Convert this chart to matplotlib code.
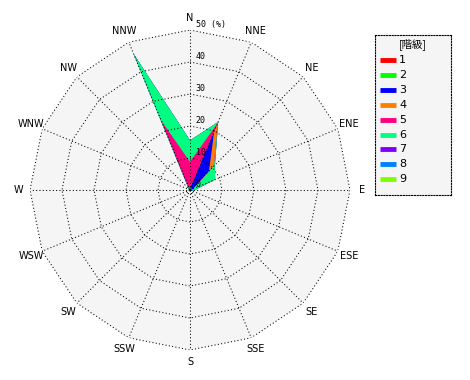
import numpy as np
import matplotlib
matplotlib.use("Agg")
import matplotlib.pyplot as plt

directions = ["N", "NNE", "NE", "ENE", "E", "ESE", "SE", "SSE",
              "S", "SSW", "SW", "WSW", "W", "WNW", "NW", "NNW"]
class_labels = ["1", "2", "3", "4", "5", "6", "7", "8", "9"]
class_colors = ["#ff0000", "#00ff00", "#0000ff", "#ff8000", "#ff0080",
                "#00ff80", "#8000ff", "#0080ff", "#80ff00"]

# frequency (%) per class and direction
c1 = [0.1, 0.2, 0.2, 0.2, 0.1, 0.1, 0.1, 0.1, 0.1, 0.1, 0.1, 0.1, 0.1, 0.1, 0.1, 0.2]
c2 = [0.1, 0.5, 0.5, 0.3, 0.2, 0.1, 0.1, 0.1, 0.1, 0.1, 0.1, 0.1, 0.1, 0.1, 0.1, 0.3]
c3 = [0.2, 19.0, 7.7, 0.5, 0.2, 0.1, 0.0, 0.0, 0.0, 0.0, 0.0, 0.0, 0.0, 0.0, 0.1, 0.3]
c4 = [0.1, 2.8, 2.1, 0.0, 0.0, 0.0, 0.0, 0.0, 0.0, 0.0, 0.0, 0.0, 0.0, 0.0, 0.0, 0.1]
c5 = [8.3, 0.2, 0.1, 0.0, 0.0, 0.0, 0.0, 0.0, 0.0, 0.0, 0.0, 0.0, 0.0, 0.0, 0.1, 22.5]
c6 = [6.7, 0.3, 0.4, 7.5, 1.0, 0.3, 0.2, 0.2, 0.2, 0.2, 0.2, 0.2, 0.2, 0.3, 0.2, 22.6]
c7 = [0.0] * 16
c8 = [0.0] * 16
c9 = [0.0] * 16
classes = [c1, c2, c3, c4, c5, c6, c7, c8, c9]

ring_values = [0, 10, 20, 30, 40, 50]
rmax = 50

fig = plt.figure(figsize=(4.7, 3.8), dpi=100)
ax = fig.add_axes([30 / 470, 30 / 380, 320 / 470, 320 / 380], projection="polar")
ax.set_theta_zero_location("N")
ax.set_theta_direction(-1)
ax.set_ylim(0, rmax)
ax.axis("off")

theta = np.deg2rad(np.arange(len(directions)) * 22.5)
theta_c = np.append(theta, theta[0])

# background
ax.fill(theta_c, [rmax] * len(theta_c), color="#f5f5f5", zorder=0, lw=0)

# stacked polygons
cum = np.cumsum(np.array(classes), axis=0)
for k in range(len(classes) - 1, -1, -1):
    vals = np.append(cum[k], cum[k][0])
    ax.fill(theta_c, vals, color=class_colors[k], lw=0, zorder=1 + (len(classes) - k))

# grid
grid_kw = dict(color="black", lw=0.75, ls=(0, (1, 2.2)), zorder=20)
for r in ring_values[1:]:
    ax.plot(theta_c, [r] * len(theta_c), **grid_kw)
for t in theta:
    ax.plot([t, t], [0, rmax], **grid_kw)

# ring labels
for r in ring_values:
    txt = f"{r}" if r != rmax else f"{r} (%)"
    ax.annotate(txt, xy=(0, r), xytext=(4.0, 0.5), textcoords="offset points",
                ha="left", va="bottom", fontsize=6, family="DejaVu Sans Mono",
                zorder=30)

# direction labels
for t, d in zip(theta, directions):
    ax.text(t, rmax * 172 / 160, d, ha="center", va="center", fontsize=7,
            family="DejaVu Sans")

# legend (manual box)
lax = fig.add_axes([375 / 470, 1 - 195 / 380, 76 / 470, 160 / 380])
lax.set_xlim(0, 76)
lax.set_ylim(160, 0)
lax.set_facecolor("#f5f5f5")
lax.set_xticks([])
lax.set_yticks([])
for s in lax.spines.values():
    s.set_linestyle((0, (1, 1.5)))
    s.set_linewidth(0.8)
lax.text(38, 9.5, "[階級]", ha="center", va="center", fontsize=7.5,
         family=["Noto Sans CJK JP", "DejaVu Sans"])
for i, (lab, col) in enumerate(zip(class_labels, class_colors)):
    y = 25 + i * 14.9
    lax.plot([5, 21], [y, y], color=col, lw=3.5, solid_capstyle="butt")
    lax.text(24, y, lab, ha="left", va="center", fontsize=8, family="DejaVu Sans")

fig.savefig("out.png", dpi=100)
